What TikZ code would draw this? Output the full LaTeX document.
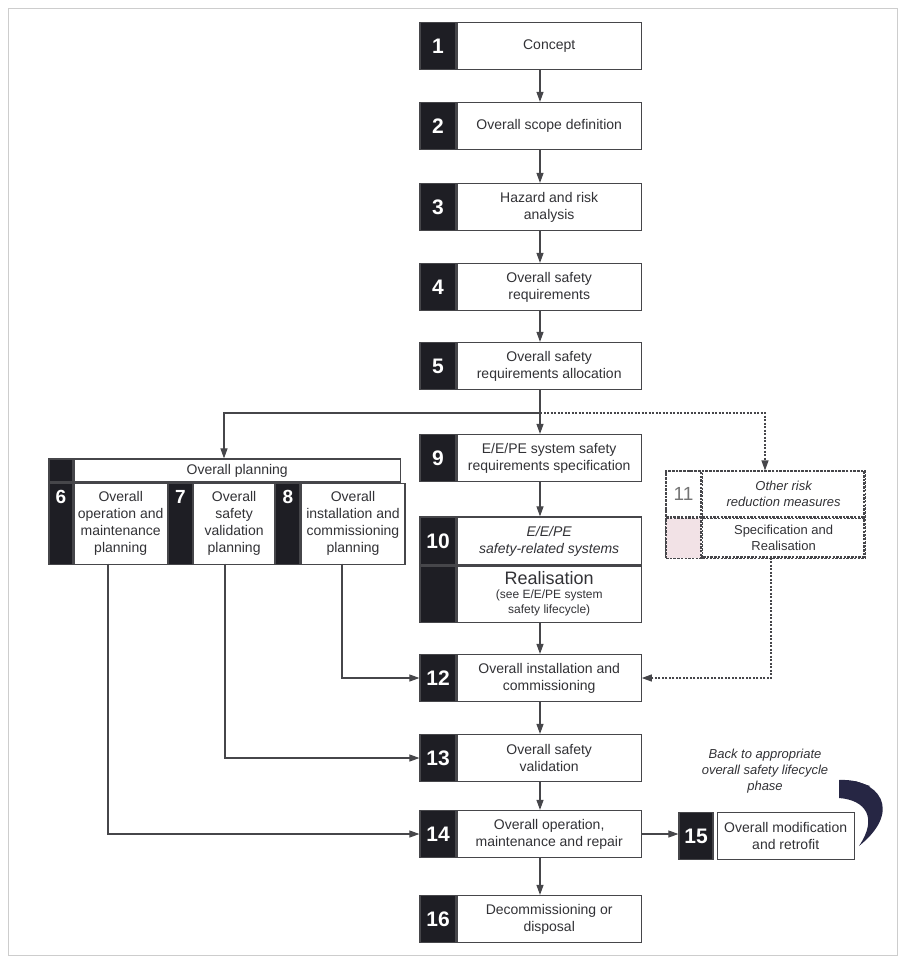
\documentclass[tikz,border=0pt]{standalone}
\usepackage{fontspec}
\setmainfont{Liberation Sans}
\usetikzlibrary{positioning,arrows.meta,calc}
\definecolor{lcDark}{RGB}{30,30,36}
\definecolor{lcLine}{RGB}{70,70,74}
\definecolor{lcText}{RGB}{50,50,54}
\definecolor{lcFrame}{RGB}{205,205,205}
\definecolor{lcPink}{RGB}{242,226,230}
\definecolor{lcNavy}{RGB}{38,38,68}
\tikzset{
    base/.style={font=\fontsize{14}{17}\selectfont, align=center, text=lcText},
    numbox/.style={rectangle, fill=lcDark, draw=lcLine, line width=1.2pt, text=white,
                   inner sep=0pt, minimum width=36, minimum height=47,
                   font=\fontsize{21}{21}\selectfont\bfseries},
    stepbox/.style={base, rectangle, draw=lcLine, line width=1.2pt, fill=white,
                    inner sep=0pt, minimum width=184, minimum height=47},
    cellnum/.style={numbox, minimum width=24, font=\fontsize{19}{19}\selectfont\bfseries},
    cell/.style={stepbox, minimum width=10},
    dashbox/.style={base, rectangle, draw=lcLine, line width=1.1pt,
                    dash pattern=on 2.5pt off 1.2pt, inner sep=0pt},
    flow/.style={-{Triangle[length=10pt,width=7pt]}, line width=1.1pt, draw=lcLine},
    dflow/.style={flow, dash pattern=on 2pt off 1.5pt},
    note/.style={base, font=\fontsize{13}{16}\selectfont\itshape}
}
\begin{document}
\begin{tikzpicture}[x=1pt,y=-1pt]
  \useasboundingbox (0,0) rectangle (906,962);
  \draw[lcFrame, line width=1pt] (8,8) rectangle (897,955);

  % main column
  \node[numbox] (n1) at (438,46) {1};
  \node[stepbox, right=0pt of n1] (s1) {Concept};
  \node[numbox] (n2) at (438,126) {2};
  \node[stepbox, right=0pt of n2] (s2) {Overall scope definition};
  \node[numbox] (n3) at (438,207) {3};
  \node[stepbox, right=0pt of n3] (s3) {Hazard and risk\\analysis};
  \node[numbox] (n4) at (438,287) {4};
  \node[stepbox, right=0pt of n4] (s4) {Overall safety\\requirements};
  \node[numbox] (n5) at (438,366) {5};
  \node[stepbox, right=0pt of n5] (s5) {Overall safety\\requirements allocation};
  \node[numbox] (n9) at (438,458) {9};
  \node[stepbox, right=0pt of n9] (s9) {E/E/PE system safety\\requirements specification};

  % realisation box
  \node[numbox, minimum height=48] (n10a) at (438,541) {10};
  \node[stepbox, minimum height=48, right=0pt of n10a, font=\fontsize{14}{17}\selectfont\itshape] (s10a) {E/E/PE\\safety-related systems};
  \node[numbox, minimum height=56, below=0pt of n10a] (n10b) {};
  \node[stepbox, minimum height=56, right=0pt of n10b] (s10b)
    {{\fontsize{18}{20}\selectfont Realisation}\\[-3pt]{\fontsize{12}{14}\selectfont (see E/E/PE system}\\[-2pt]{\fontsize{12}{14}\selectfont safety lifecycle)}};

  \node[numbox] (n12) at (438,678) {12};
  \node[stepbox, right=0pt of n12] (s12) {Overall installation and\\commissioning};
  \node[numbox] (n13) at (438,758) {13};
  \node[stepbox, right=0pt of n13] (s13) {Overall safety\\validation};
  \node[numbox] (n14) at (438,834) {14};
  \node[stepbox, right=0pt of n14] (s14) {Overall operation,\\maintenance and repair};
  \node[numbox] (n16) at (438,919) {16};
  \node[stepbox, right=0pt of n16] (s16) {Decommissioning or\\disposal};

  % modification
  \node[numbox, minimum width=34] (n15) at (696,836) {15};
  \node[stepbox, minimum width=137, right=3pt of n15] (s15) {Overall modification\\and retrofit};

  % overall planning block
  \node[draw=lcLine, line width=1.2pt, minimum width=350, minimum height=104, inner sep=0pt] (plan) at (224,511) {};
  \node[cellnum, minimum height=23, anchor=north west] (hnum) at (plan.north west) {};
  \node[cell, minimum width=326, minimum height=23, right=0pt of hnum] (hdr) {Overall planning};
  \node[cellnum, minimum height=81, below=0pt of hnum, label={[anchor=north, text=white, font=\fontsize{19}{19}\selectfont\bfseries, yshift=-4pt]north:6}] (n6) {};
  \node[cell, minimum width=93, minimum height=81, right=0pt of n6] (p6) {Overall\\operation and\\maintenance\\planning};
  \node[cellnum, minimum height=81, right=0pt of p6, label={[anchor=north, text=white, font=\fontsize{19}{19}\selectfont\bfseries, yshift=-4pt]north:7}] (n7) {};
  \node[cell, minimum width=81, minimum height=81, right=0pt of n7] (p7) {Overall\\safety\\validation\\planning};
  \node[cellnum, minimum height=81, right=0pt of p7, label={[anchor=north, text=white, font=\fontsize{19}{19}\selectfont\bfseries, yshift=-4pt]north:8}] (n8) {};
  \node[cell, minimum width=104, minimum height=81, right=0pt of n8] (p8) {Overall\\installation and\\commissioning\\planning};

  % other risk reduction measures
  \node[dashbox, minimum width=198, minimum height=86] (orm) at (765,514) {};
  \node[dashbox, minimum width=35, minimum height=46, anchor=north west, text=black!55,
        font=\fontsize{19}{19}\selectfont] (n11) at (orm.north west) {11};
  \node[dashbox, minimum width=163, minimum height=46, right=0pt of n11, font=\fontsize{13}{16}\selectfont\itshape] (o11) {Other risk\\reduction measures};
  \node[dashbox, minimum width=35, minimum height=40, below=0pt of n11, fill=lcPink] (n11b) {};
  \node[dashbox, minimum width=163, minimum height=40, right=0pt of n11b, font=\fontsize{13}{16}\selectfont] (o11b) {Specification and\\Realisation};

  % back note
  \node[note] (back) at (765,771) {Back to appropriate\\overall safety lifecycle\\phase};
  \fill[lcNavy] (839,780) .. controls (878,778) and (904,810) .. (859,846)
    .. controls (878,818) and (866,800) .. (839,798) -- cycle;
  \fill[lcNavy] (855,781) -- (870,786) -- (862,792) -- cycle;

  % connectors
  \coordinate (ax) at (540,0);
  \coordinate (j5) at (540,413);
  \coordinate (t6) at (108,0);
  \coordinate (t7) at (225,0);
  \coordinate (t8) at (342,0);
  \coordinate (t11) at (771,0);
  \foreach \a/\b in {s1/s2,s2/s3,s3/s4,s4/s5,s5/s9,s9/s10a,s10b/s12,s12/s13,s13/s14,s14/s16}
    \draw[flow] (\a.south -| ax) -- (\b.north -| ax);
  \draw[flow] (j5) -| (plan.north);
  \draw[dflow] (j5) -| (orm.north);
  \draw[flow] (plan.south -| t6) |- (n14.west);
  \draw[flow] (plan.south -| t7) |- (n13.west);
  \draw[flow] (plan.south -| t8) |- (n12.west);
  \draw[dflow] (orm.south -| t11) |- (s12.east);
  \draw[flow] (s14.east) -- (s14.east -| n15.west);
\end{tikzpicture}
\end{document}
